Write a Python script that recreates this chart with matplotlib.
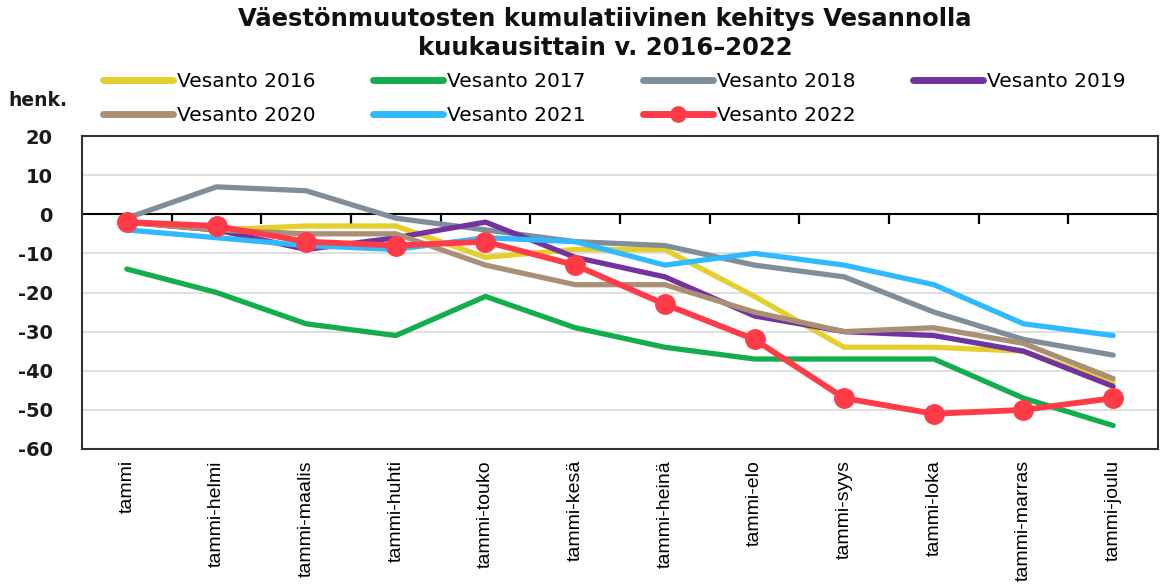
import matplotlib
matplotlib.use("Agg")
import matplotlib.pyplot as plt
from matplotlib.lines import Line2D

# cumulative population change, persons
MONTHS = ["tammi", "tammi-helmi", "tammi-maalis", "tammi-huhti", "tammi-touko", "tammi-kesä",
          "tammi-heinä", "tammi-elo", "tammi-syys", "tammi-loka", "tammi-marras", "tammi-joulu"]
V2016 = [-2, -4, -3, -3, -11, -9, -9, -21, -34, -34, -35, -43]
V2017 = [-14, -20, -28, -31, -21, -29, -34, -37, -37, -37, -47, -54]
V2018 = [-1, 7, 6, -1, -4, -7, -8, -13, -16, -25, -32, -36]
V2019 = [-2, -4, -9, -6, -2, -11, -16, -26, -30, -31, -35, -44]
V2020 = [-2, -4, -5, -5, -13, -18, -18, -25, -30, -29, -33, -42]
V2021 = [-4, -6, -8, -9, -6, -7, -13, -10, -13, -18, -28, -31]
V2022 = [-2, -3, -7, -8, -7, -13, -23, -32, -47, -51, -50, -47]
YTICKS = [20, 10, 0, -10, -20, -30, -40, -50, -60]

SERIES = [("Vesanto 2016", V2016, "#e4cf2c"), ("Vesanto 2017", V2017, "#14ad4b"),
          ("Vesanto 2018", V2018, "#7f8e98"), ("Vesanto 2019", V2019, "#7232a0"),
          ("Vesanto 2020", V2020, "#aa8f74"), ("Vesanto 2021", V2021, "#2fbaff"),
          ("Vesanto 2022", V2022, "#ff3b47")]

W, H = 1174, 587
fig = plt.figure(figsize=(W / 100, H / 100), dpi=100)
ax = fig.add_axes([82 / W, 1 - 449 / H, (1158 - 82) / W, (449 - 136) / H])

x = list(range(len(MONTHS)))
handles = []
for name, vals, col in SERIES:
    if name.endswith("2022"):
        ax.plot(x, vals, color=col, lw=4.2, marker="o", ms=14, zorder=4,
                solid_capstyle="round", label=name)
    else:
        ax.plot(x, vals, color=col, lw=3.8, zorder=3, solid_capstyle="round", label=name)
    handles.append(Line2D([], [], color=col, lw=5, solid_capstyle="round",
                          marker="o" if name.endswith("2022") else None, ms=11))

ax.set_xlim(-0.5, len(MONTHS) - 0.5)
ax.set_ylim(-60, 20)
ax.set_yticks(YTICKS)
ax.set_yticklabels([str(t) for t in YTICKS], fontsize=14, fontweight="bold", color="#1a1a1a")
ax.set_xticks(x)
ax.set_xticklabels(MONTHS, rotation=90, fontsize=14, family="Liberation Sans", va="top", ha="center")
ax.tick_params(axis="both", length=0)
ax.tick_params(axis="y", pad=21)
ax.tick_params(axis="x", pad=8)
ax.yaxis.grid(True, color="#d9d9d9", lw=1.2, zorder=0)
ax.set_axisbelow(True)
for s in ax.spines.values():
    s.set_color("#333333")
    s.set_linewidth(1.5)

# zero line with category-boundary ticks
zero = (0 - YTICKS[-1]) / (YTICKS[0] - YTICKS[-1])
sec = ax.secondary_xaxis(zero)
sec.set_zorder(1)
sec.set_xticks([k + 0.5 for k in x[:-1]])
sec.tick_params(direction="in", length=7, width=1.6, color="black", labeltop=False, labelbottom=False)
for s in sec.spines.values():
    s.set_color("black")
    s.set_linewidth(1.5)

fig.text(605 / W, 1 - 7 / H, "Väestönmuutosten kumulatiivinen kehitys Vesannolla\nkuukausittain v. 2016–2022",
         ha="center", va="top", fontsize=17.5, fontweight="bold", linespacing=1.25, color="#111111")
fig.text(8 / W, 1 - 100 / H, "henk.", ha="left", va="center", fontsize=13.5, fontweight="bold", color="#1a1a1a")

order = [0, 4, 1, 5, 2, 6, 3]
fs = 14.5
px = fs * 100 / 72
fig.legend([handles[i] for i in order], [SERIES[i][0] for i in order], ncol=4, loc="upper left",
           bbox_to_anchor=(103 / W, 1 - 72 / H), frameon=False, fontsize=fs, borderpad=0,
           borderaxespad=0, handlelength=70 / px, handletextpad=4 / px, columnspacing=2.85,
           labelspacing=0.75, numpoints=1)

fig.savefig("out.png", dpi=100, facecolor="white")
